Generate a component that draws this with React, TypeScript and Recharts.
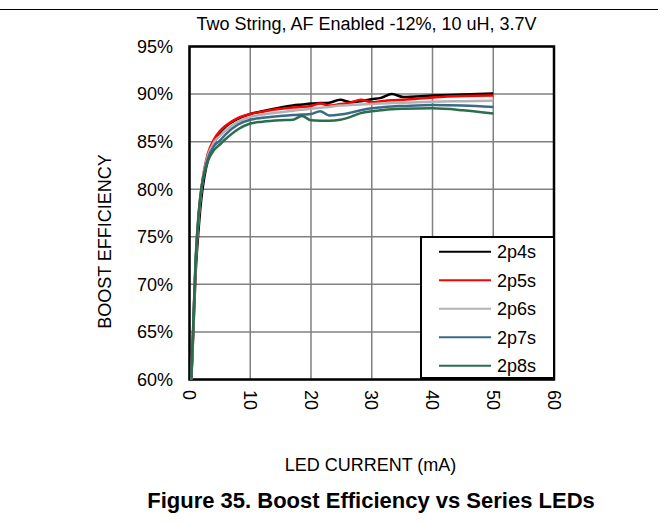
import React from "react";
import { LineChart, Line, XAxis, YAxis, CartesianGrid, ReferenceArea, Legend } from "recharts";

const currentMa = [0.3, 0.6, 1, 1.5, 2, 2.5, 3, 4, 5, 6, 8, 10, 12, 15, 17, 18.5, 20, 21.5, 23, 24.8, 26.5, 28.2, 30, 31.5, 33.3, 35.2, 40, 45, 50];
const eff2p4s = [60, 64.5, 71, 75.8, 79.3, 81.5, 83.0, 84.8, 85.9, 86.6, 87.4, 87.9, 88.2, 88.6, 88.8, 88.9, 89.0, 89.05, 89.1, 89.4, 89.15, 89.25, 89.45, 89.6, 90.0, 89.7, 89.85, 89.95, 90.07];
const eff2p5s = [60, 65, 72, 77, 80.3, 82.3, 83.7, 85.2, 86.1, 86.7, 87.5, 87.9, 88.15, 88.45, 88.6, 88.65, 88.75, 89.0, 88.8, 88.95, 89.1, 89.4, 89.15, 89.25, 89.35, 89.4, 89.65, 89.8, 89.85];
const eff2p6s = [60, 65, 72, 77, 80.2, 82.2, 83.5, 84.9, 85.6, 86.2, 87.1, 87.6, 87.85, 88.1, 88.25, 88.35, 88.45, 88.55, 88.65, 88.8, 88.85, 88.9, 88.95, 89.0, 89.05, 89.1, 89.2, 89.25, 89.3];
const eff2p7s = [60, 65.2, 72.3, 77.3, 80.2, 82.0, 83.2, 84.5, 85.1, 85.8, 86.8, 87.3, 87.5, 87.7, 87.8, 87.85, 87.9, 88.2, 87.75, 87.85, 88.05, 88.3, 88.5, 88.6, 88.7, 88.75, 88.85, 88.8, 88.65];
const eff2p8s = [60.2, 65.5, 72.5, 77.5, 80.3, 81.8, 82.9, 84.1, 84.7, 85.3, 86.3, 86.9, 87.1, 87.25, 87.3, 87.7, 87.25, 87.2, 87.2, 87.3, 87.6, 88.0, 88.2, 88.3, 88.4, 88.45, 88.5, 88.3, 87.95];

const seriesNames = ["2p4s", "2p5s", "2p6s", "2p7s", "2p8s"];
const seriesColors = ["#000000", "#ff0000", "#b2b2b2", "#3a6a88", "#2c6e4c"];
const seriesValues = [eff2p4s, eff2p5s, eff2p6s, eff2p7s, eff2p8s];

const xTicks = [0, 10, 20, 30, 40, 50, 60];
const yTicks = [60, 65, 70, 75, 80, 85, 90, 95];

const titleText = "Two String, AF Enabled -12%, 10 uH, 3.7V";
const yLabel = "BOOST EFFICIENCY";
const xLabel = "LED CURRENT (mA)";
const caption = "Figure 35. Boost Efficiency vs Series LEDs";

const data = currentMa.map((x, i) => {
  const row: any = { x };
  seriesNames.forEach((n, k) => {
    row[n] = seriesValues[k][i];
  });
  return row;
});

const FONT = "'Liberation Sans', Arial, sans-serif";

const XTick = (props: any) => {
  const { x, payload } = props;
  return (
    <text
      transform={`translate(${x},390) rotate(90)`}
      textAnchor="start"
      dy="0.35em"
      fontSize={18}
      fontFamily={FONT}
      fill="#000"
    >
      {payload.value}
    </text>
  );
};

const LegendBox = () => (
  <div style={{ width: 135, height: 143, background: "#fff", border: "2px solid #000", boxSizing: "border-box" }}>
    <svg width={131} height={139} style={{ display: "block" }}>
      {seriesNames.map((n, i) => {
        const cy = 13.7 + i * 28.5;
        return (
          <g key={n}>
            <line x1={17} x2={69} y1={cy} y2={cy} stroke={seriesColors[i]} strokeWidth={2} />
            <text x={75} y={cy + 6.4} fontSize={18} fontFamily={FONT} fill="#000">
              {n}
            </text>
          </g>
        );
      })}
    </svg>
  </div>
);

export default function App() {
  return (
    <div style={{ position: "absolute", left: 0, top: 0, width: 658, height: 524, background: "#fff", fontFamily: FONT }}>
      <LineChart
        width={658}
        height={524}
        data={data}
        margin={{ top: 46.5, right: 104, bottom: 114.5, left: 129.5 }}
      >
        <CartesianGrid stroke="#808080" strokeWidth={1.5} verticalPoints={undefined} />
        <XAxis
          dataKey="x"
          type="number"
          domain={[0, 60]}
          ticks={xTicks}
          axisLine={false}
          tickLine={false}
          tickSize={0}
          height={30}
          tick={<XTick />}
          interval={0}
        />
        <YAxis
          type="number"
          domain={[60, 95]}
          ticks={yTicks}
          tickFormatter={(v: number) => `${v}%`}
          axisLine={false}
          tickLine={false}
          tickSize={0}
          tickMargin={16.5}
          width={60}
          interval={0}
          tick={{ fontSize: 18, fill: "#000", fontFamily: FONT }}
        />
        <ReferenceArea x1={0} x2={60} y1={60} y2={95} fill="none" stroke="#000" strokeWidth={2.5} ifOverflow="visible" />
        {seriesNames.map((n, i) => (
          <Line
            key={n}
            type="monotone"
            dataKey={n}
            name={n}
            stroke={seriesColors[i]}
            strokeWidth={2.5}
            dot={false}
            isAnimationActive={false}
          />
        ))}
        <Legend
          layout="vertical"
          align="center"
          verticalAlign="middle"
          content={<LegendBox />}
          wrapperStyle={{ left: 420, top: 236, width: 135, height: 143 }}
        />
      </LineChart>
      <svg width={658} height={524} style={{ position: "absolute", left: 0, top: 0, pointerEvents: "none" }}>
        <line x1={0} x2={658} y1={9.5} y2={9.5} stroke="#000" strokeWidth={1.2} />
        <text x={366.5} y={30} textAnchor="middle" fontSize={18} fontFamily={FONT} fill="#000">
          {titleText}
        </text>
        <text transform="translate(110.7,241.5) rotate(-90)" textAnchor="middle" fontSize={18} fontFamily={FONT} fill="#000">
          {yLabel}
        </text>
        <text x={370.5} y={470.7} textAnchor="middle" fontSize={18} fontFamily={FONT} fill="#000">
          {xLabel}
        </text>
        <text x={371} y={508.3} textAnchor="middle" fontSize={22} fontWeight="bold" fontFamily={FONT} fill="#000">
          {caption}
        </text>
      </svg>
    </div>
  );
}
